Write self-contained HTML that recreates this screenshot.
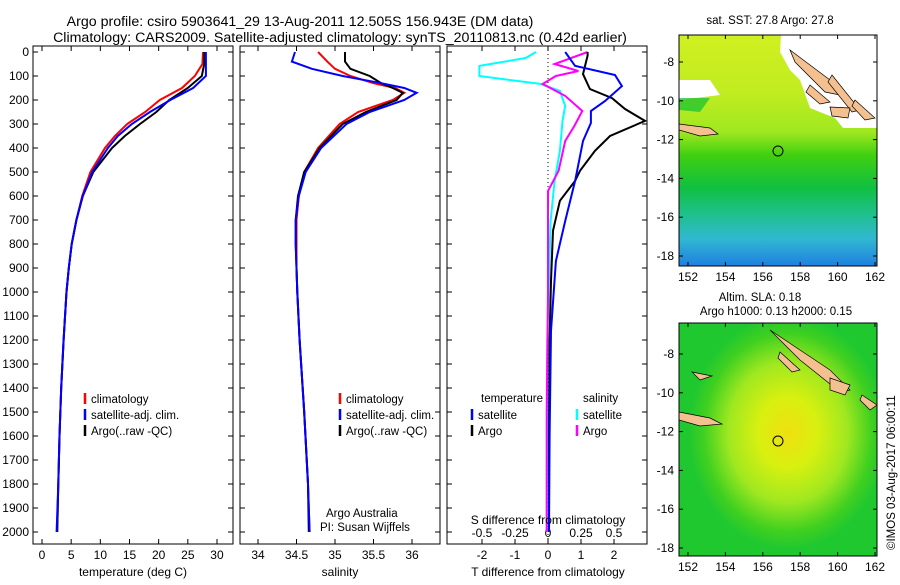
<!DOCTYPE html>
<html><head><meta charset="utf-8"><style>
body{margin:0;background:#fff;}
svg text{font-family:"Liberation Sans",sans-serif;fill:#000;}
</style></head><body>
<svg id="chart" width="900" height="580" viewBox="0 0 900 580" xmlns="http://www.w3.org/2000/svg">
<defs>
<linearGradient id="sstg" x1="0" y1="0" x2="0" y2="1">
<stop offset="0" stop-color="#d0f020"/><stop offset="0.25" stop-color="#c0ec20"/><stop offset="0.42" stop-color="#a0e820"/>
<stop offset="0.52" stop-color="#40d010"/><stop offset="0.66" stop-color="#10c040"/><stop offset="0.78" stop-color="#20c090"/>
<stop offset="0.88" stop-color="#30b8d0"/><stop offset="1" stop-color="#2080e0"/></linearGradient>
<radialGradient id="slag" cx="0.55" cy="0.47" r="0.5">
<stop offset="0" stop-color="#f0e010"/><stop offset="0.3" stop-color="#d8f010"/><stop offset="0.6" stop-color="#a0e820"/><stop offset="0.85" stop-color="#40d020"/><stop offset="1" stop-color="#20c830"/></radialGradient>
<clipPath id="c1"><rect x="33" y="46" width="200" height="498"/></clipPath>
<clipPath id="c2"><rect x="240" y="46" width="200" height="498"/></clipPath>
<clipPath id="c3"><rect x="447" y="46" width="200" height="498"/></clipPath>
</defs>
<text x="300" y="26" font-size="14.2" text-anchor="middle">Argo profile: csiro 5903641_29 13-Aug-2011 12.505S 156.943E (DM data)</text>
<text x="340" y="42" font-size="14.2" text-anchor="middle">Climatology: CARS2009. Satellite-adjusted climatology: synTS_20110813.nc (0.42d earlier)</text>
<g id="p1"></g>
<g id="p2"></g>
<g id="p3"></g>

<g>
<text x="770" y="24" font-size="11.5" text-anchor="middle">sat. SST: 27.8 Argo: 27.8</text>
<rect x="679" y="35" width="198" height="231" fill="url(#sstg)"/>
<path d="M781,35 L877,35 L877,128 L843,128 L835,118 L810,108 L800,80 L790,70 L780,52 Z" fill="#fff"/>
<path d="M679,80 L710,80 L720,95 L679,100 Z" fill="#fff"/>
<path d="M679,98 L710,98 L700,112 L679,110 Z" fill="#10c030" opacity="0.7"/>
<path d="M790,50 L830,80 L840,95 L825,92 L795,62 Z" fill="#f4c090" stroke="#000" stroke-width="0.7"/>
<path d="M810,85 L830,102 L820,104 L806,92 Z" fill="#f4c090" stroke="#000" stroke-width="0.7"/>
<path d="M832,75 L860,110 L852,112 L828,82 Z" fill="#f4c090" stroke="#000" stroke-width="0.7"/>
<path d="M830,107 L850,108 L848,118 L832,116 Z" fill="#f4c090" stroke="#000" stroke-width="0.7"/>
<path d="M855,100 L875,118 L865,120 L852,106 Z" fill="#f4c090" stroke="#000" stroke-width="0.7"/>
<path d="M679,124 L710,128 L718,134 L700,136 L679,130 Z" fill="#f4c090" stroke="#000" stroke-width="0.7"/>
<circle cx="778" cy="151" r="5" fill="none" stroke="#000" stroke-width="1"/>
<rect x="679" y="35" width="198" height="231" fill="none" stroke="#000"/>
</g>
<g>
<text x="760" y="301" font-size="11.5" text-anchor="middle">Altim. SLA: 0.18</text>
<text x="776" y="315" font-size="11.5" text-anchor="middle">Argo h1000: 0.13 h2000: 0.15</text>
<rect x="679" y="323" width="198" height="233" fill="#30cc20"/>
<rect x="679" y="323" width="198" height="233" fill="url(#slag)"/>
<path d="M770,330 L830,370 L850,390 L840,392 L800,360 Z" fill="#f4c090" stroke="#000" stroke-width="0.7"/>
<path d="M780,352 L800,370 L792,372 L778,358 Z" fill="#f4c090" stroke="#000" stroke-width="0.7"/>
<path d="M830,378 L850,385 L845,395 L830,390 Z" fill="#f4c090" stroke="#000" stroke-width="0.7"/>
<path d="M862,395 L877,405 L870,410 L860,400 Z" fill="#f4c090" stroke="#000" stroke-width="0.7"/>
<path d="M679,412 L710,418 L722,424 L700,426 L679,420 Z" fill="#f4c090" stroke="#000" stroke-width="0.7"/>
<path d="M692,372 L712,376 L700,380 Z" fill="#f4c090" stroke="#000" stroke-width="0.7"/>
<circle cx="778" cy="441" r="5" fill="none" stroke="#000" stroke-width="1"/>
<rect x="679" y="323" width="198" height="233" fill="none" stroke="#000"/>
</g>
<text transform="translate(895,550) rotate(-90)" font-size="11.5">©IMOS 03-Aug-2017 06:00:11</text>
<g id="maps-axes"></g>
</svg>
<script>
const depthTicks=[0,100,200,300,400,500,600,700,800,900,1000,1100,1200,1300,1400,1500,1600,1700,1800,1900,2000];
const tempTicks=[0,5,10,15,20,25,30];
const salTicks=['34','34.5','35','35.5','36'];
const tdiffTicks=['-2','-1','0','1','2'];
const sdiffTicks=['-0.5','-0.25','0','0.25','0.5'];
const lonTicks=[152,154,156,158,160,162];
const latTicks=[-8,-10,-12,-14,-16,-18];

const tDepth=[0,50,100,150,200,250,300,350,400,500,600,700,800,900,1000,1200,1400,1600,1800,2000];
const tClim=[27.6,27.5,26.2,24,20.2,17.7,14.6,12.5,10.8,8.3,6.9,5.9,5.1,4.6,4.2,3.7,3.3,3.0,2.8,2.6];
const tSat=[28.1,28.1,28.1,25.9,22,18.5,15.4,13,11.3,8.6,7.0,5.9,5.1,4.6,4.2,3.7,3.3,3.0,2.8,2.5];
const tArgo=[27.8,27.8,27.4,25,21.8,19.6,16.8,14.2,12,8.8,7.0,5.9,5.1,4.6,4.2,3.7,3.3,3.0,2.8,2.6];

const sDepth=[0,40,70,100,130,150,170,200,250,300,400,500,600,700,800,900,1000,1200,1500,1800,2000];
const sClim=[34.78,34.9,35.0,35.2,35.5,35.78,35.9,35.75,35.3,35.06,34.78,34.6,34.53,34.5,34.5,34.5,34.51,34.54,34.6,34.65,34.67];
const sSat=[34.48,34.44,34.7,35.1,35.6,35.9,36.06,35.9,35.45,35.15,34.82,34.62,34.53,34.49,34.49,34.5,34.51,34.54,34.6,34.65,34.67];
const sArgo=[35.13,35.13,35.2,35.45,35.6,35.75,35.88,35.8,35.4,35.1,34.8,34.6,34.52,34.49,34.49,34.5,34.51,34.54,34.6,34.65,34.66];

const dtArgoDepth=[0,15,92,154,192,237,287,350,412,495,537,620,745,954,1200,1600,2000];
const dtArgo=[1.2,1.2,1.06,1.27,1.94,2.33,2.94,1.88,1.42,0.97,0.82,0.36,0.15,0.09,0.05,0.03,0.03];
const dtSatDepth=[0,58,96,142,204,246,296,371,537,704,871,1162,1600,2000];
const dtSat=[0.52,0.82,2.03,2.24,1.73,1.3,1.3,1.06,0.82,0.52,0.24,0.09,0.05,0.03];
const dsSatDepth=[0,25,58,100,133,162,225,287,412,537,704,1200,2000];
const dsSat=[-0.09,-0.17,-0.52,-0.52,-0.06,0.09,0.13,0.11,0.09,0.05,0.02,-0.005,-0.01];
const dsArgoDepth=[0,50,79,100,133,183,246,308,371,495,579,1000,1500,2000];
const dsArgo=[0.3,0.05,0.23,0.06,-0.04,0.13,0.26,0.2,0.13,0.08,0,0,-0.01,-0.01];

const NS='http://www.w3.org/2000/svg';
function mk(tag,attrs,parent){const e=document.createElementNS(NS,tag);for(const k in attrs)e.setAttribute(k,attrs[k]);parent.appendChild(e);return e;}
const yD=d=>52+d*0.24;
const xT=t=>42+t*5.833;
const xS=s=>258+(s-34)*77;
const xDT=t=>548+t*33;
const xDS=s=>548+s*132;

function frame(g,x0,showDepth){
  const r=mk('rect',{x:x0,y:46,width:200,height:498,fill:'none',stroke:'#000'},g);
  
  
  depthTicks.forEach(d=>{
    mk('line',{x1:x0,x2:x0+5,y1:yD(d),y2:yD(d),stroke:'#000'},g);
    mk('line',{x1:x0+200,x2:x0+195,y1:yD(d),y2:yD(d),stroke:'#000'},g);
    if(showDepth){const t=mk('text',{x:x0-4,y:yD(d)+4,'font-size':12,'text-anchor':'end'},g);t.textContent=d;
      
      }
  });
}
function line(g,xs,ds,xf,color,w,name){
  const pts=xs.map((v,i)=>xf(v).toFixed(1)+','+yD(ds[i]).toFixed(1)).join(' ');
  const p=mk('polyline',{points:pts,fill:'none',stroke:color,'stroke-width':w},g);
  
  
}
function xticks(g,ticks,xf,x0,yy){
  ticks.forEach(t=>{const x=xf(+t);
    mk('line',{x1:x,x2:x,y1:544,y2:539,stroke:'#000'},g);
    mk('line',{x1:x,x2:x,y1:46,y2:51,stroke:'#000'},g);
    const e=mk('text',{x:x,y:yy,'font-size':12,'text-anchor':'middle'},g);e.textContent=t;
    
    
  });
}
function legend(g,x,y,items){
  items.forEach((it,i)=>{
    mk('line',{x1:x,x2:x,y1:y+i*16-8,y2:y+i*16+3,stroke:it[1],'stroke-width':2.5},g);
    const t=mk('text',{x:x+6,y:y+i*16+2,'font-size':11.5},g);t.textContent=it[0];
    
    
  });
}
const p1=document.getElementById('p1'),p2=document.getElementById('p2'),p3=document.getElementById('p3');
frame(p1,33,true);
xticks(p1,tempTicks,xT,33,559);
const cp1=mk('g',{'clip-path':'url(#c1)'},p1);
line(cp1,tClim,tDepth,xT,'#f00',2,'temp-climatology-line');
line(cp1,tArgo,tDepth,xT,'#000',2,'temp-argo-line');
line(cp1,tSat,tDepth,xT,'#00f',2,'temp-satellite-line');
let t=mk('text',{x:133,y:576,'font-size':12,'text-anchor':'middle'},p1);t.textContent='temperature (deg C)';


legend(p1,85,401,[['climatology','#f00'],['satellite-adj. clim.','#00f'],['Argo(..raw -QC)','#000']]);
frame(p2,240,false);
xticks(p2,salTicks,xS,240,559);
const cp2=mk('g',{'clip-path':'url(#c2)'},p2);
line(cp2,sClim,sDepth,xS,'#f00',2,'sal-climatology-line');
line(cp2,sArgo,sDepth,xS,'#000',2,'sal-argo-line');
line(cp2,sSat,sDepth,xS,'#00f',2,'sal-satellite-line');
t=mk('text',{x:340,y:576,'font-size':12,'text-anchor':'middle'},p2);t.textContent='salinity';


legend(p2,340,401,[['climatology','#f00'],['satellite-adj. clim.','#00f'],['Argo(..raw -QC)','#000']]);
t=mk('text',{x:326,y:517,'font-size':11.5},p2);t.textContent='Argo Australia';


t=mk('text',{x:320,y:531,'font-size':11.5},p2);t.textContent='PI: Susan Wijffels';


frame(p3,447,false);
tdiffTicks.forEach(v=>{const x=xDT(+v);mk('line',{x1:x,x2:x,y1:544,y2:539,stroke:'#000'},p3);mk('line',{x1:x,x2:x,y1:46,y2:51,stroke:'#000'},p3);
  const e=mk('text',{x:x,y:559,'font-size':12,'text-anchor':'middle'},p3);e.textContent=v;
  
  });
sdiffTicks.forEach(v=>{const x=xDS(+v);
  const e=mk('text',{x:x,y:537,'font-size':12,'text-anchor':'middle'},p3);e.textContent=v;
  
  });
mk('line',{x1:548,x2:548,y1:46,y2:544,stroke:'#000','stroke-dasharray':'1,3'},p3);
const cp3=mk('g',{'clip-path':'url(#c3)'},p3);
line(cp3,dsSat,dsSatDepth,xDS,'#0ff',2,'sal-diff-satellite-line');
line(cp3,dsArgo,dsArgoDepth,xDS,'#f0f',2,'sal-diff-argo-line');
line(cp3,dtArgo,dtArgoDepth,xDT,'#000',2,'temp-diff-argo-line');
line(cp3,dtSat,dtSatDepth,xDT,'#00f',2,'temp-diff-satellite-line');
t=mk('text',{x:548,y:576,'font-size':12,'text-anchor':'middle'},p3);t.textContent='T difference from climatology';


t=mk('text',{x:548,y:524,'font-size':12,'text-anchor':'middle'},p3);t.textContent='S difference from climatology';


t=mk('text',{x:481,y:402,'font-size':11.5},p3);t.textContent='temperature';


t=mk('text',{x:583,y:402,'font-size':11.5},p3);t.textContent='salinity';


legend(p3,472,417,[['satellite','#00f'],['Argo','#000']]);
legend(p3,577,417,[['satellite','#0ff'],['Argo','#f0f']]);
const ma=document.getElementById('maps-axes');
[[35,266,62,256],[323,556,354,548]].forEach(([top,bot,y8,y18])=>{
  const yL=l=>y8+(l+8)/(-10)*(y18-y8);
  const xL=l=>688+(l-152)*18.7;
  latTicks.forEach(l=>{const y=yL(l);
    mk('line',{x1:679,x2:683,y1:y,y2:y,stroke:'#000'},ma);mk('line',{x1:877,x2:873,y1:y,y2:y,stroke:'#000'},ma);
    const e=mk('text',{x:674,y:y+4,'font-size':12,'text-anchor':'end'},ma);e.textContent=l;
    
    });
  lonTicks.forEach(l=>{const x=xL(l);
    mk('line',{x1:x,x2:x,y1:bot,y2:bot-4,stroke:'#000'},ma);mk('line',{x1:x,x2:x,y1:top,y2:top+4,stroke:'#000'},ma);
    const e=mk('text',{x:x,y:bot+15,'font-size':12,'text-anchor':'middle'},ma);e.textContent=l;
    
    });
});
</script>
</body></html>
